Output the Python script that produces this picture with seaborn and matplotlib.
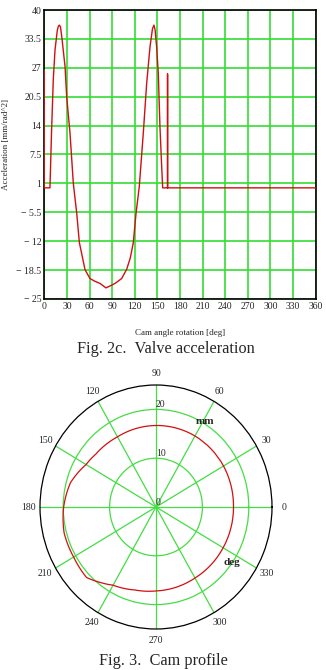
import numpy as np
import pandas as pd
import matplotlib
matplotlib.use("Agg")
import matplotlib.pyplot as plt
import seaborn as sns

sns.set_style("white")
plt.rcParams['font.family'] = ['Liberation Serif', 'DejaVu Serif']

# --- data ---
acc_deg = [0, 0, 7.5, 9.5, 11.9, 14.2, 17.3, 18.8, 20, 21.5, 23.5, 27.5, 29.7, 34.1, 38.5,
           43, 46.5, 54, 60.6, 67, 73.9, 81.8, 88, 93.8, 102.6, 109.3, 114, 118, 121.7,
           126, 131.3, 135.8, 140.2, 143.5, 145.5, 147, 149, 151.2, 153.4, 155.7, 157,
           163.5, 163.5, 163.5, 360]
acc_val = [26.5, 0, 0, 12, 24.3, 31.0, 35.5, 36.4, 36.6, 36.2, 33.5, 27.3, 20.5, 12.3, 1,
           -5.7, -12.3, -18.4, -20.4, -21.0, -21.5, -22.5, -22.0, -21.5, -20.4, -18.3, -15.8, -12.4, -5.7,
           0.3, 12.3, 23.5, 31.7, 35.8, 36.6, 35.5, 31.7, 25.8, 13.8, 4.8, 0,
           0, 25.6, 0, 0]

y_ticks = [-25, -18.5, -12, -5.5, 1, 7.5, 14, 20.5, 27, 33.5, 40]
y_labels = ["\u2212 25", "\u2212 18.5", "\u2212 12", "\u2212 5.5", "1", "7.5", "14",
            "20.5", "27", "33.5", "40"]
x_ticks = list(range(0, 361, 30))

cam_deg = [0, 30, 60, 90, 120, 140, 150, 165, 180, 195, 210, 215, 224, 232, 240, 255,
           270, 285, 300, 330, 345, 360]
cam_r = [16.7, 16.8, 16.8, 16.7, 16.6, 16.9, 17.4, 19.1, 19.9, 20.5, 20.5, 20.6, 20.8,
         19.6, 18.5, 17.6, 17.2, 17.0, 16.8, 16.7, 16.7, 16.7]

grid_green = "#33dd33"
red = "#d01010"

fig = plt.figure(figsize=(3.26, 6.70), dpi=100)

# --- Valve acceleration ---
ax = fig.add_axes([44.3 / 326, 1 - 299 / 670, (315.7 - 44.3) / 326, (299 - 10) / 670])
df_acc = pd.DataFrame({"deg": acc_deg, "acc": acc_val})
sns.lineplot(data=df_acc, x="deg", y="acc", sort=False, estimator=None, color=red,
             linewidth=1.0, ax=ax, zorder=3)
ax.set_xlim(0, 360)
ax.set_ylim(-25, 40)
ax.set_xticks(x_ticks)
ax.set_xticklabels([str(t) for t in x_ticks], fontsize=7)
ax.set_yticks(y_ticks)
ax.set_yticklabels(y_labels, fontsize=7)
ax.tick_params(length=0, pad=2)
ax.grid(True, color=grid_green, linewidth=1.2)
for s in ax.spines.values():
    s.set_color("black")
    s.set_linewidth(1.2)
ax.set_xlabel("Cam angle rotation [deg]", fontsize=6.5)
ax.xaxis.set_label_coords(0.5, -(329 - 299) / 289)
ax.set_ylabel("Acceleration [mm/rad^2]", fontsize=6.5)
ax.yaxis.set_label_coords(-(44.3 - 10.5) / 271.4, (299 - 144) / 289)
fig.text(166 / 326, 1 - 349 / 670, "Fig. 2c.  Valve acceleration", ha="center", va="center",
         fontsize=11.7)

# --- Cam profile ---
pax = fig.add_axes([(156 - 116) / 326, 1 - (507 + 122) / 670, 232 / 326, 244 / 670],
                   projection="polar")
df_cam = pd.DataFrame({"th": np.deg2rad(cam_deg), "r": cam_r})
sns.lineplot(data=df_cam, x="th", y="r", sort=False, estimator=None, color=red,
             linewidth=0.9, ax=pax, zorder=3)
# draw the profile as curves in polar space, not straight chords
for line in pax.lines:
    line.get_path()._interpolation_steps = 40
    line._transform_path()
pax.set_aspect("auto")
pax.set_rlim(0, 25)
pax.set_rticks([0, 10, 20])
pax.set_yticklabels(["0", "10", "20"], fontsize=7)
pax.set_rlabel_position(90)
pax.set_thetagrids(list(range(0, 360, 30)), [str(a) for a in range(0, 360, 30)], fontsize=7)
pax.tick_params(axis="x", pad=-2)
pax.grid(True, color="#44dd44", linewidth=0.9)
pax.spines["polar"].set_color("black")
pax.spines["polar"].set_linewidth(0.9)
pax.set_xlabel("")
pax.set_ylabel("")
pax.text(np.deg2rad(59), 20.4, "mm", fontsize=8, fontweight="bold", ha="center", va="center")
pax.text(np.deg2rad(325), 19.9, "deg", fontsize=8, fontweight="bold", ha="center", va="center")
fig.text(163.5 / 326, 1 - 661 / 670, "Fig. 3.  Cam profile", ha="center", va="center",
         fontsize=11.7)

fig.savefig("out.png", dpi=100)
